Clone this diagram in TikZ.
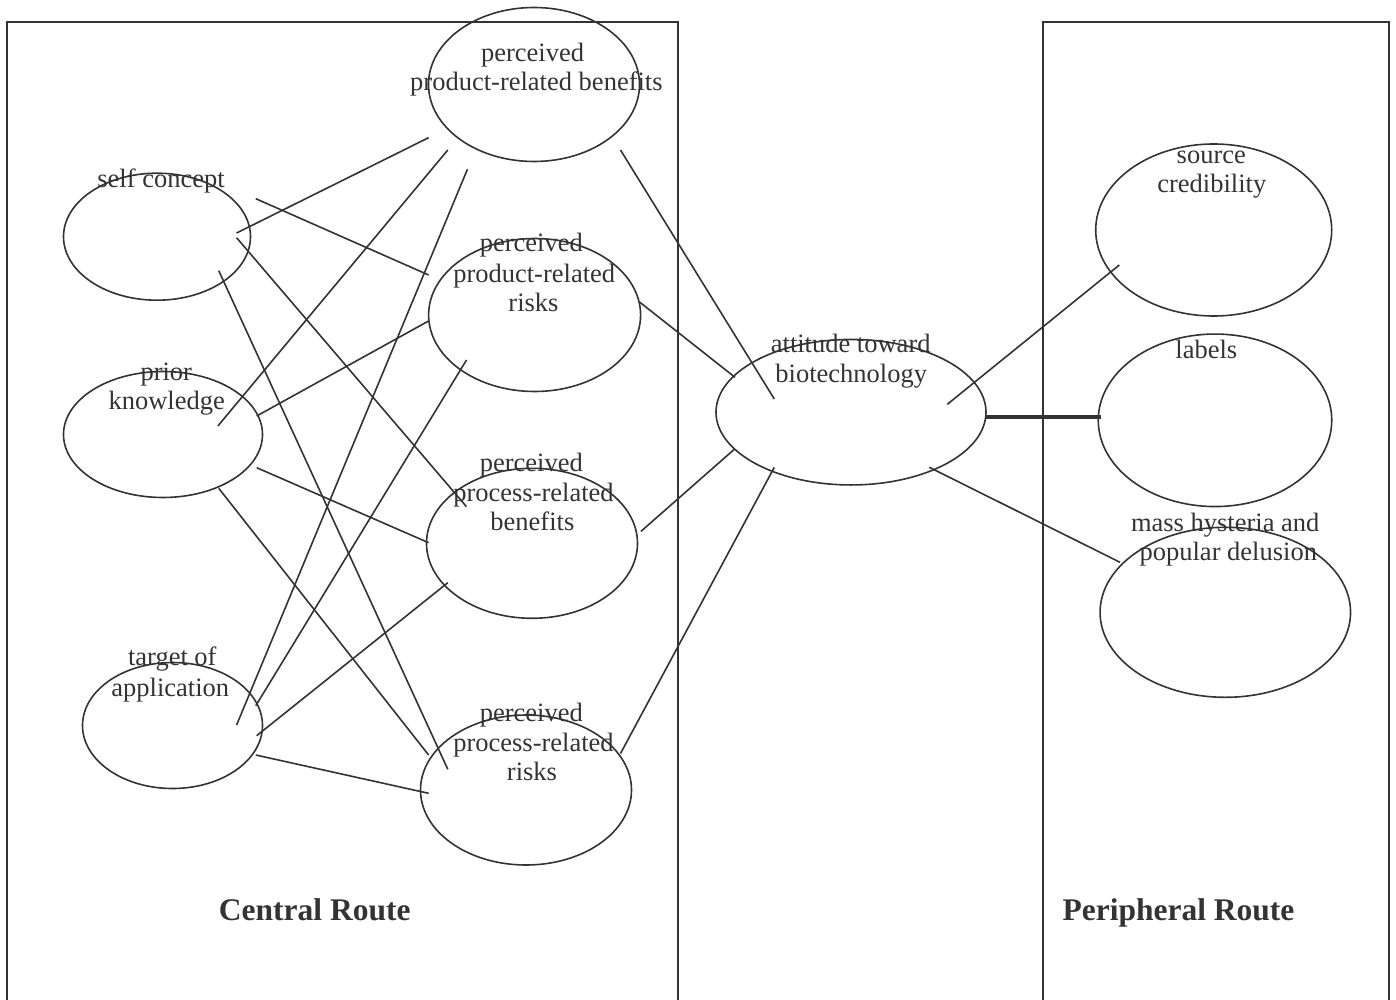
\documentclass[tikz,border=0pt]{standalone}
\usepackage{fontspec}
\setmainfont{Liberation Serif}
\usetikzlibrary{shapes.geometric}
\definecolor{ink}{HTML}{333333}
\begin{document}
\begin{tikzpicture}[x=1pt,y=-1pt,
  oval/.style={draw=ink, line width=1.6pt, ellipse, inner sep=0pt, outer sep=0pt},
  lbl/.style={text=ink, font=\fontsize{26.5}{30}\selectfont, anchor=base, inner sep=0pt},
  ttl/.style={text=ink, font=\fontsize{31.5}{36}\selectfont\bfseries, anchor=base, inner sep=0pt},
  link/.style={draw=ink, line width=1.6pt},
  thicklink/.style={draw=ink, line width=4pt},
  routebox/.style={draw=ink, line width=2pt}]
\useasboundingbox (0,0) rectangle (1396,1000);

% route boxes
\coordinate (lbA) at (7,1000);
\coordinate (lbB) at (7,22);
\coordinate (lbC) at (678,22);
\coordinate (lbD) at (678,1000);
\coordinate (rbA) at (1043,1000);
\coordinate (rbB) at (1043,22);
\coordinate (rbC) at (1389,22);
\coordinate (rbD) at (1389,1000);
\draw[routebox] (lbA) -- (lbB) -- (lbC) -- (lbD);
\draw[routebox] (rbA) -- (rbB) -- (rbC) -- (rbD);

% ellipses
\node[oval, minimum width=211pt, minimum height=154pt] (pb) at (534,84.5) {};
\node[oval, minimum width=187pt, minimum height=127pt] (sc) at (157,236.7) {};
\node[oval, minimum width=212pt, minimum height=153pt] (pr) at (534.6,315) {};
\node[oval, minimum width=199pt, minimum height=126pt] (pk) at (163,434.5) {};
\node[oval, minimum width=211pt, minimum height=150pt] (cb) at (532,543.3) {};
\node[oval, minimum width=180pt, minimum height=126pt] (ta) at (172.5,725.5) {};
\node[oval, minimum width=211pt, minimum height=150pt] (cr) at (526,790) {};
\node[oval, minimum width=270pt, minimum height=145.5pt] (at) at (851,412.2) {};
\node[oval, minimum width=236pt, minimum height=172pt] (so) at (1213.7,230) {};
\node[oval, minimum width=233.5pt, minimum height=172.5pt] (la) at (1215,420.3) {};
\node[oval, minimum width=250.5pt, minimum height=170pt] (mh) at (1225.3,612.3) {};

% connectors: central route
\draw[link] ([shift={(79.6,-3.7)}]sc.center) -- ([shift={(-105.4,53.2)}]pb.center);
\draw[link] ([shift={(98.8,-38)}]sc.center) -- ([shift={(-106,-40)}]pr.center);
\draw[link] ([shift={(79.6,1)}]sc.center) -- ([shift={(-65.5,-36.6)}]cb.center);
\draw[link] ([shift={(61.75,34)}]sc.center) -- ([shift={(-78.2,-20.7)}]cr.center);
\draw[link] ([shift={(54.9,-8.5)}]pk.center) -- ([shift={(-86.2,65.5)}]pb.center);
\draw[link] ([shift={(93.7,-18.5)}]pk.center) -- ([shift={(-106,6)}]pr.center);
\draw[link] ([shift={(93.7,33.2)}]pk.center) -- ([shift={(-103.4,-0.6)}]cb.center);
\draw[link] ([shift={(55.75,53.8)}]pk.center) -- ([shift={(-97.4,-35)}]cr.center);
\draw[link] ([shift={(64.1,-0.5)}]ta.center) -- ([shift={(-66.6,84.8)}]pb.center);
\draw[link] ([shift={(83.3,-19.8)}]ta.center) -- ([shift={(-68.1,45)}]pr.center);
\draw[link] ([shift={(84.2,10.2)}]ta.center) -- ([shift={(-84.2,39.4)}]cb.center);
\draw[link] ([shift={(83.3,29.5)}]ta.center) -- ([shift={(-97.4,3.3)}]cr.center);
% to attitude
\draw[link] ([shift={(86.5,65.5)}]pb.center) -- ([shift={(-76.7,-13.2)}]at.center);
\draw[link] ([shift={(105.3,-12.7)}]pr.center) -- ([shift={(-116,-34.9)}]at.center);
\draw[link] ([shift={(108.9,-11.9)}]cb.center) -- ([shift={(-116.7,37.1)}]at.center);
\draw[link] ([shift={(94.5,-36.5)}]cr.center) -- ([shift={(-76.7,55.1)}]at.center);
% peripheral route
\draw[link] ([shift={(96.3,-7.9)}]at.center) -- ([shift={(-94.4,35)}]so.center);
\draw[thicklink] ([shift={(135,4.5)}]at.center) -- ([shift={(-114.3,-3.6)}]la.center);
\draw[link] ([shift={(78.3,55.1)}]at.center) -- ([shift={(-105.3,-50)}]mh.center);

% labels
\node[lbl] (pbt1) at (532.6,61.7) {perceived};
\node[lbl] (pbt2) at (536.4,90.7) {product-related benefits};
\node[lbl] (sct1) at (161,187.3) {self concept};
\node[lbl] (prt1) at (531.3,251.7) {perceived};
\node[lbl] (prt2) at (534.2,282) {product-related};
\node[lbl] (prt3) at (533.5,311.7) {risks};
\node[lbl] (pkt1) at (166.3,380) {prior};
\node[lbl] (pkt2) at (166.7,409) {knowledge};
\node[lbl] (cbt1) at (531.3,471.7) {perceived};
\node[lbl] (cbt2) at (533.5,501.7) {process-related};
\node[lbl] (cbt3) at (532.4,530.7) {benefits};
\node[lbl] (tat1) at (172.3,665.5) {target of};
\node[lbl] (tat2) at (170.3,696) {application};
\node[lbl] (crt1) at (531.3,721) {perceived};
\node[lbl] (crt2) at (533.5,751.7) {process-related};
\node[lbl] (crt3) at (532,780.7) {risks};
\node[lbl] (att1) at (850.7,352.3) {attitude toward};
\node[lbl] (att2) at (851.2,382.3) {biotechnology};
\node[lbl] (sot1) at (1211.3,163.3) {source};
\node[lbl] (sot2) at (1211.8,192.7) {credibility};
\node[lbl] (lat1) at (1206.3,358.3) {labels};
\node[lbl] (mht1) at (1225.2,531.7) {mass hysteria and};
\node[lbl] (mht2) at (1228.3,560.5) {popular delusion};
\node[ttl] (crte) at (314.7,920) {Central Route};
\node[ttl] (prte) at (1178.5,920) {Peripheral Route};
\end{tikzpicture}
\end{document}
